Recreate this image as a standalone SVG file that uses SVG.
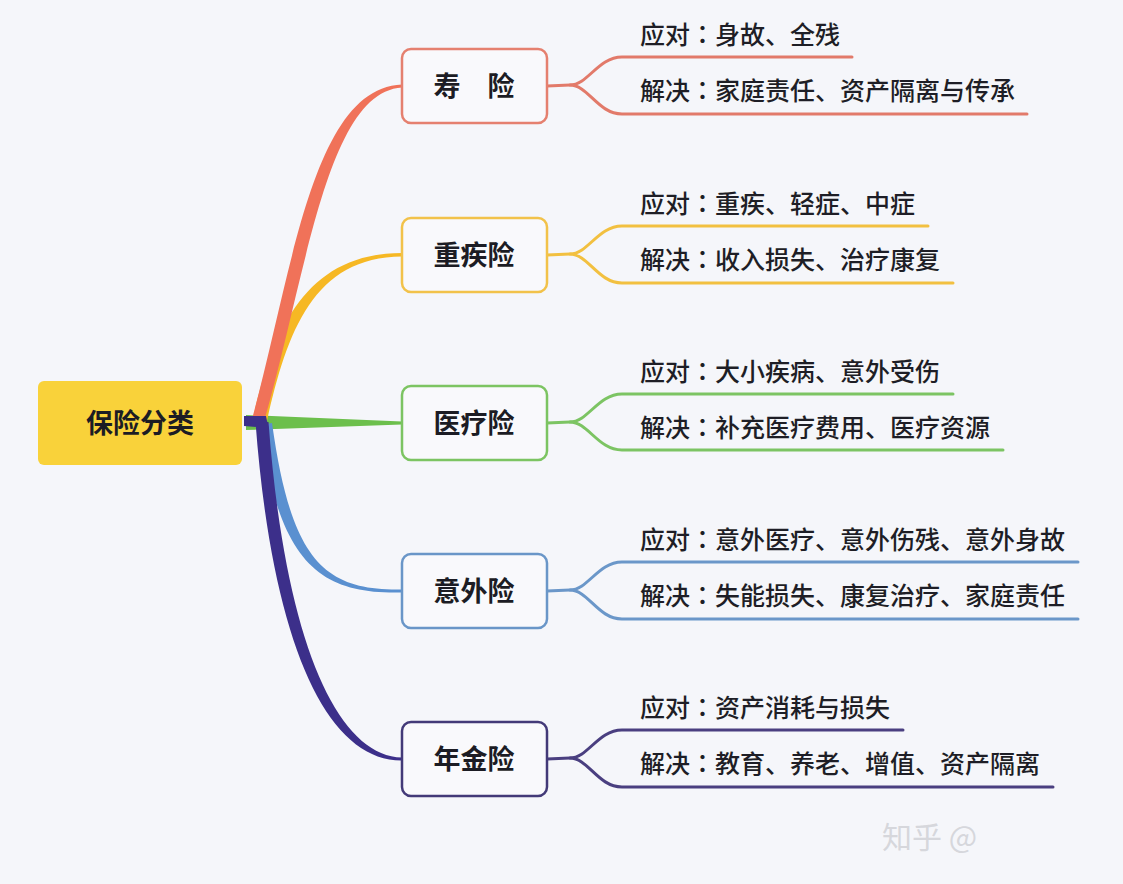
<svg xmlns="http://www.w3.org/2000/svg" width="1123" height="884" viewBox="0 0 1123 884">
<style>
.bg{fill:#f5f6fa}
.box{fill:#f9f9fc;stroke-width:2.5}
.nt{font-family:"Noto Sans CJK SC","Noto Sans",sans-serif;font-weight:bold;font-size:27px;fill:#1c1c24;text-anchor:middle}
.lt{font-family:"Noto Sans CJK SC","Noto Sans",sans-serif;font-size:25px;font-weight:500;fill:#1e1e26}
.c{font-family:"Noto Sans CJK TC","Noto Sans CJK SC",sans-serif}
.fork{fill:none;stroke-width:3;stroke-linecap:round}
.wm{font-family:"Noto Sans CJK SC","Noto Sans",sans-serif;font-size:30px;fill:#d6d7dc}
</style>
<rect class="bg" x="0" y="0" width="1123" height="884"/>
<g id="connectors">
  <path d="M246,415 L402,421.5 L402,424.5 L246,430 Z" fill="#6cbf4c"/>
  <path d="M260,425 C279,562 318,594.5 402,592.5 L402,589.5 C322,591 291,558 272,423 Z" fill="#5a90d0"/>
  <path d="M253,418.7 C273,329 306,253 402,253 L402,256.5 C314,257 287,331 267,421.3 Z" fill="#f6b824"/>
  <path d="M252.2,418.4 C293,268 313,88 402,84.5 L402,87.5 C327,92 307,272 264,421.6 Z" fill="#f07259"/>
  <path d="M244,416 L266,416 L268.5,428 L244,426 Z" fill="#3c2f8a"/>
  <path d="M255.5,422 C272,642 326,761 402,760.5 L402,757.5 C336,756 284.5,638 268.5,422 Z" fill="#3c2f8a"/>
  <g stroke="#e27a6a" class="fork">
    <path d="M547,86 L570,85 C588,85 598,57 622,57 L852,57"/>
    <path d="M570,85 C588,85 598,114 622,114 L1027,114"/>
  </g>
  <g stroke="#f2c040" class="fork">
    <path d="M547,255 L570,254 C588,254 598,226 622,226 L928,226"/>
    <path d="M570,254 C588,254 598,283 622,283 L953,283"/>
  </g>
  <g stroke="#7cc463" class="fork">
    <path d="M547,423 L570,422 C588,422 598,394 622,394 L953,394"/>
    <path d="M570,422 C588,422 598,450 622,450 L1003,450"/>
  </g>
  <g stroke="#6b97c9" class="fork">
    <path d="M547,591 L570,590 C588,590 598,562 622,562 L1078,562"/>
    <path d="M570,590 C588,590 598,619 622,619 L1078,619"/>
  </g>
  <g stroke="#4a3f80" class="fork">
    <path d="M547,759 L570,758 C588,758 598,730 622,730 L903,730"/>
    <path d="M570,758 C588,758 598,787 622,787 L1053,787"/>
  </g>
</g>
<g id="root">
  <rect x="38" y="381" width="204" height="84" rx="6" fill="#f9d23a"/>
  <text class="nt" x="140" y="433">保险分类</text>
</g>
<g id="node-shouxian">
  <rect class="box" x="402" y="49" width="145" height="74" rx="9" stroke="#e5806f"/>
  <text class="nt" x="474" y="96">寿　险</text>
  <text class="lt" x="640" y="44">应对<tspan class="c">：</tspan>身故、全残</text>
  <text class="lt" x="640" y="100">解决<tspan class="c">：</tspan>家庭责任、资产隔离与传承</text>
</g>
<g id="node-zhongji">
  <rect class="box" x="402" y="218" width="145" height="74" rx="9" stroke="#f2c24a"/>
  <text class="nt" x="474" y="265">重疾险</text>
  <text class="lt" x="640" y="213">应对<tspan class="c">：</tspan>重疾、轻症、中症</text>
  <text class="lt" x="640" y="269">解决<tspan class="c">：</tspan>收入损失、治疗康复</text>
</g>
<g id="node-yiliao">
  <rect class="box" x="402" y="386" width="145" height="74" rx="9" stroke="#7cc462"/>
  <text class="nt" x="474" y="433">医疗险</text>
  <text class="lt" x="640" y="381">应对<tspan class="c">：</tspan>大小疾病、意外受伤</text>
  <text class="lt" x="640" y="437">解决<tspan class="c">：</tspan>补充医疗费用、医疗资源</text>
</g>
<g id="node-yiwai">
  <rect class="box" x="402" y="554" width="145" height="74" rx="9" stroke="#6a96c8"/>
  <text class="nt" x="474" y="601">意外险</text>
  <text class="lt" x="640" y="549">应对<tspan class="c">：</tspan>意外医疗、意外伤残、意外身故</text>
  <text class="lt" x="640" y="605">解决<tspan class="c">：</tspan>失能损失、康复治疗、家庭责任</text>
</g>
<g id="node-nianjin">
  <rect class="box" x="402" y="722" width="145" height="74" rx="9" stroke="#433a78"/>
  <text class="nt" x="474" y="769">年金险</text>
  <text class="lt" x="640" y="717">应对<tspan class="c">：</tspan>资产消耗与损失</text>
  <text class="lt" x="640" y="773">解决<tspan class="c">：</tspan>教育、养老、增值、资产隔离</text>
</g>
<text class="wm" x="882" y="848">知乎 @</text>
</svg>
